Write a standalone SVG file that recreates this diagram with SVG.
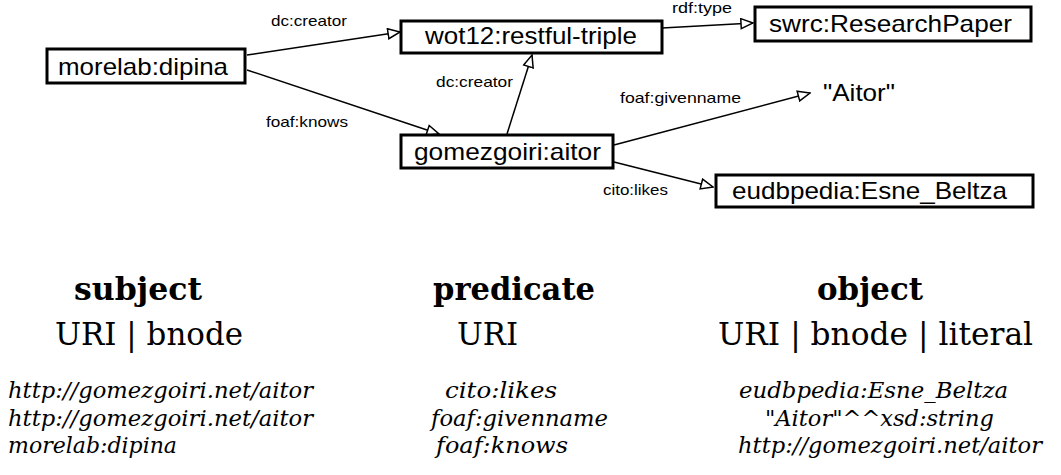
<svg xmlns="http://www.w3.org/2000/svg" width="1061" height="475" viewBox="0 0 1061 475">
<style>
.box{fill:#fff;stroke:#000;stroke-width:3}
.nt{font-family:"Liberation Sans",Arial,sans-serif;font-size:24px;fill:#000}
.lb{font-family:"Liberation Sans",Arial,sans-serif;font-size:15px;fill:#000}
.edge{fill:none;stroke:#000;stroke-width:1.5;marker-end:url(#ah)}
.hd{font-family:"DejaVu Serif",serif;font-weight:bold;font-size:31px;fill:#000}
.ty{font-family:"DejaVu Serif",serif;font-size:31px;fill:#000}
.ex{font-family:"DejaVu Serif",serif;font-style:italic;font-size:22.5px;fill:#000}
</style>
<defs>
<marker id="ah" viewBox="0 0 14 12" refX="13" refY="6" markerWidth="14" markerHeight="12" markerUnits="userSpaceOnUse" orient="auto">
<path d="M1,1 L13,6 L1,11 Z" fill="#fff" stroke="#000" stroke-width="1.5"/>
</marker>
</defs>
<g id="connectors">
<line class="edge" x1="247" y1="55" x2="400" y2="32"/>
<line class="edge" x1="247" y1="70" x2="439" y2="134"/>
<line class="edge" x1="507" y1="134" x2="532" y2="55"/>
<line class="edge" x1="662" y1="28" x2="753" y2="23"/>
<line class="edge" x1="614" y1="145" x2="810" y2="93"/>
<line class="edge" x1="614" y1="162" x2="713" y2="187"/>
<text class="lb" x="271" y="26" textLength="76" lengthAdjust="spacingAndGlyphs">dc:creator</text>
<text class="lb" x="266" y="127" textLength="82" lengthAdjust="spacingAndGlyphs">foaf:knows</text>
<text class="lb" x="436" y="87" textLength="77" lengthAdjust="spacingAndGlyphs">dc:creator</text>
<text class="lb" x="672" y="13" textLength="60" lengthAdjust="spacingAndGlyphs">rdf:type</text>
<text class="lb" x="620" y="103" textLength="121" lengthAdjust="spacingAndGlyphs">foaf:givenname</text>
<text class="lb" x="603" y="195" textLength="65" lengthAdjust="spacingAndGlyphs">cito:likes</text>
</g>
<g id="node-morelab-dipina">
<rect class="box" x="47" y="49" width="198" height="34"/>
<text class="nt" x="58" y="75" textLength="170" lengthAdjust="spacingAndGlyphs">morelab:dipina</text>
</g>
<g id="node-wot12-restful-triple">
<rect class="box" x="401" y="21" width="261" height="32"/>
<text class="nt" x="425" y="44" textLength="212" lengthAdjust="spacingAndGlyphs">wot12:restful-triple</text>
</g>
<g id="node-swrc-ResearchPaper">
<rect class="box" x="755" y="7" width="276" height="34"/>
<text class="nt" x="769" y="32" textLength="243" lengthAdjust="spacingAndGlyphs">swrc:ResearchPaper</text>
</g>
<g id="node-gomezgoiri-aitor">
<rect class="box" x="401" y="135" width="212" height="33"/>
<text class="nt" x="414" y="160" textLength="187" lengthAdjust="spacingAndGlyphs">gomezgoiri:aitor</text>
</g>
<g id="node-aitor-literal">
<text class="nt" x="823" y="101" textLength="72" lengthAdjust="spacingAndGlyphs">"Aitor"</text>
</g>
<g id="node-eudbpedia-Esne_Beltza">
<rect class="box" x="716" y="175" width="317" height="32"/>
<text class="nt" x="732" y="199" textLength="275" lengthAdjust="spacingAndGlyphs">eudbpedia:Esne_Beltza</text>
</g>
<g id="legend">
<text class="hd" x="74" y="300" textLength="128" lengthAdjust="spacingAndGlyphs">subject</text>
<text class="ty" x="55" y="345" textLength="188" lengthAdjust="spacingAndGlyphs">URI | bnode</text>
<text class="hd" x="433" y="300" textLength="162" lengthAdjust="spacingAndGlyphs">predicate</text>
<text class="ty" x="457" y="345" textLength="61" lengthAdjust="spacingAndGlyphs">URI</text>
<text class="hd" x="817" y="300" textLength="106" lengthAdjust="spacingAndGlyphs">object</text>
<text class="ty" x="718" y="345" textLength="315" lengthAdjust="spacingAndGlyphs">URI | bnode | literal</text>
<text class="ex" x="8" y="398" textLength="305" lengthAdjust="spacingAndGlyphs">http://gomezgoiri.net/aitor</text>
<text class="ex" x="8" y="426" textLength="305" lengthAdjust="spacingAndGlyphs">http://gomezgoiri.net/aitor</text>
<text class="ex" x="8" y="453" textLength="169" lengthAdjust="spacingAndGlyphs">morelab:dipina</text>
<text class="ex" x="445" y="398" textLength="112" lengthAdjust="spacingAndGlyphs">cito:likes</text>
<text class="ex" x="431" y="426" textLength="177" lengthAdjust="spacingAndGlyphs">foaf:givenname</text>
<text class="ex" x="436" y="453" textLength="132" lengthAdjust="spacingAndGlyphs">foaf:knows</text>
<text class="ex" x="739" y="398" textLength="269" lengthAdjust="spacingAndGlyphs">eudbpedia:Esne_Beltza</text>
<text class="ex" x="765" y="426" textLength="229" lengthAdjust="spacingAndGlyphs">"Aitor"^^xsd:string</text>
<text class="ex" x="738" y="453" textLength="304" lengthAdjust="spacingAndGlyphs">http://gomezgoiri.net/aitor</text>
</g>
</svg>
